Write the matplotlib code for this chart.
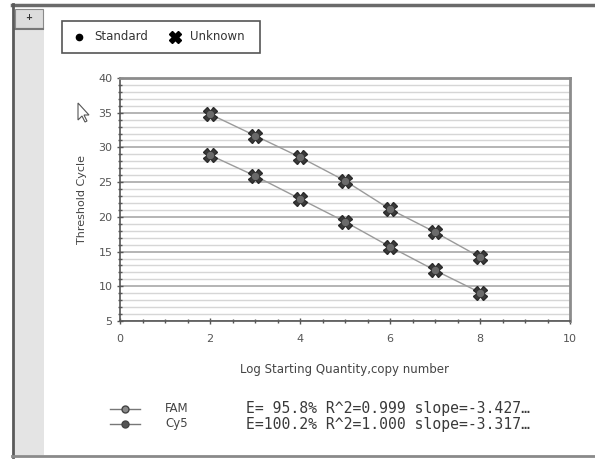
import matplotlib
matplotlib.use('Agg')
import matplotlib.pyplot as plt
from matplotlib.patches import Rectangle, Polygon
from matplotlib.lines import Line2D
from matplotlib.ticker import MultipleLocator

# ---------------- DATA ----------------
log_qty = [2, 3, 4, 5, 6, 7, 8]
fam_ct = [34.8, 31.7, 28.6, 25.2, 21.1, 17.8, 14.2]
cy5_ct = [28.9, 25.9, 22.6, 19.3, 15.7, 12.3, 9.1]

series_names = ["FAM", "Cy5"]
series_stats = ["E= 95.8% R^2=0.999 slope=-3.427\u2026",
                "E=100.2% R^2=1.000 slope=-3.317\u2026"]

W, H = 595, 459
fig = plt.figure(figsize=(W / 100, H / 100), dpi=100)
fig.patch.set_facecolor('white')


def fx(x):
    return x / W


def fy(y):
    return 1 - y / H


# ---------------- WINDOW CHROME ----------------
fig.add_artist(Rectangle((fx(14), fy(455)), fx(30), 450 / H - 10 / H,
                         transform=fig.transFigure, facecolor='#e4e4e4',
                         edgecolor='none'))
fig.add_artist(Rectangle((fx(15), fy(28)), fx(28), 19 / H,
                         transform=fig.transFigure, facecolor='#dcdcdc',
                         edgecolor='#8a8a8a', lw=0.8))
fig.add_artist(Line2D([fx(15), fx(43)], [fy(29), fy(29)],
                      transform=fig.transFigure, color='#777777', lw=1.5))
fig.text(fx(29), fy(18), '+', ha='center', va='center', fontsize=6,
         color='#333333', fontweight='bold')
fig.add_artist(Line2D([fx(12), fx(595)], [fy(5), fy(5)],
                      transform=fig.transFigure, color='#6a6a6a', lw=2.5))
fig.add_artist(Line2D([fx(13), fx(13)], [fy(4), fy(457)],
                      transform=fig.transFigure, color='#5a5a5a', lw=2))
fig.add_artist(Line2D([fx(12), fx(595)], [fy(456), fy(456)],
                      transform=fig.transFigure, color='#8a8a8a', lw=2))

# cursor
cur = [(78, 103), (78, 120), (82, 116), (85, 122), (87, 121), (84, 115), (89, 115)]
fig.add_artist(Polygon([(fx(a), fy(b)) for a, b in cur], closed=True,
                       transform=fig.transFigure, facecolor='white',
                       edgecolor='#555555', lw=0.8))

# ---------------- PLOT ----------------
ax = fig.add_axes([fx(120), fy(321), fx(570) - fx(120), (321 - 78) / H])
ax.set_xlim(0, 10)
ax.set_ylim(5, 40)

ax.yaxis.set_major_locator(MultipleLocator(5))
ax.yaxis.set_minor_locator(MultipleLocator(1))
ax.xaxis.set_major_locator(MultipleLocator(2))
ax.xaxis.set_minor_locator(MultipleLocator(0.5))
ax.grid(which='major', axis='y', color='#a8a8a8', lw=1.2)
ax.grid(which='minor', axis='y', color='#d6d6d6', lw=1.0)
ax.set_axisbelow(True)

for s in ['top', 'right']:
    ax.spines[s].set_color('#8c8c8c')
    ax.spines[s].set_linewidth(2)
for s in ['left', 'bottom']:
    ax.spines[s].set_color('#555555')
    ax.spines[s].set_linewidth(1.2)

ax.tick_params(axis='both', which='major', labelsize=8, labelcolor='#555555',
               color='#555555', length=4, width=1, direction='inout')
ax.tick_params(axis='both', which='minor', color='#555555', length=3, width=1,
               direction='inout')
ax.tick_params(axis='x', which='major', pad=7)

for ct in [fam_ct, cy5_ct]:
    ax.plot(log_qty, ct, color='#9a9a9a', lw=1, zorder=2)
    ax.plot(log_qty, ct, linestyle='none', marker='X', markersize=10,
            markerfacecolor='#3a3a3a', markeredgecolor='#2a2a2a', zorder=3)
    ax.plot(log_qty, ct, linestyle='none', marker='o', markersize=6,
            markerfacecolor='#6a6a6a', markeredgecolor='#333333',
            markeredgewidth=0.6, zorder=4)

ax.set_xlabel('Log Starting Quantity,copy number', fontsize=8.5,
              color='#444444', labelpad=14)
ax.set_ylabel('Threshold Cycle', fontsize=8, color='#444444', labelpad=8)

# ---------------- TOP LEGEND ----------------
fig.add_artist(Rectangle((fx(62), fy(53)), fx(260) - fx(62), 32 / H,
                         transform=fig.transFigure, facecolor='white',
                         edgecolor='#555555', lw=1.2))
fig.add_artist(Line2D([fx(79)], [fy(37)], transform=fig.transFigure,
                      marker='o', markersize=4.5, color='black', linestyle='none'))
fig.text(fx(94), fy(37), 'Standard', fontsize=8.5, va='center', color='#333333')
fig.add_artist(Line2D([fx(175)], [fy(37)], transform=fig.transFigure,
                      marker='X', markersize=8, color='black', linestyle='none'))
fig.text(fx(190), fy(37), 'Unknown', fontsize=8.5, va='center', color='#333333')

# ---------------- BOTTOM LEGEND ----------------
row_y = [409, 424]
mk_col = ['#8a8a8a', '#555555']
for name, stat, yy, mc in zip(series_names, series_stats, row_y, mk_col):
    fig.add_artist(Line2D([fx(110), fx(140)], [fy(yy), fy(yy)],
                          transform=fig.transFigure, color='#777777', lw=1))
    fig.add_artist(Line2D([fx(125)], [fy(yy)], transform=fig.transFigure,
                          marker='o', markersize=5, markerfacecolor=mc,
                          markeredgecolor='#444444', linestyle='none'))
    fig.text(fx(165), fy(yy), name, fontsize=8.5, va='center', color='#444444')
    fig.text(fx(246), fy(yy), stat, fontsize=10.6, va='center', color='#3a3a3a',
             family='DejaVu Sans Mono')

fig.savefig('out.png', dpi=100)
